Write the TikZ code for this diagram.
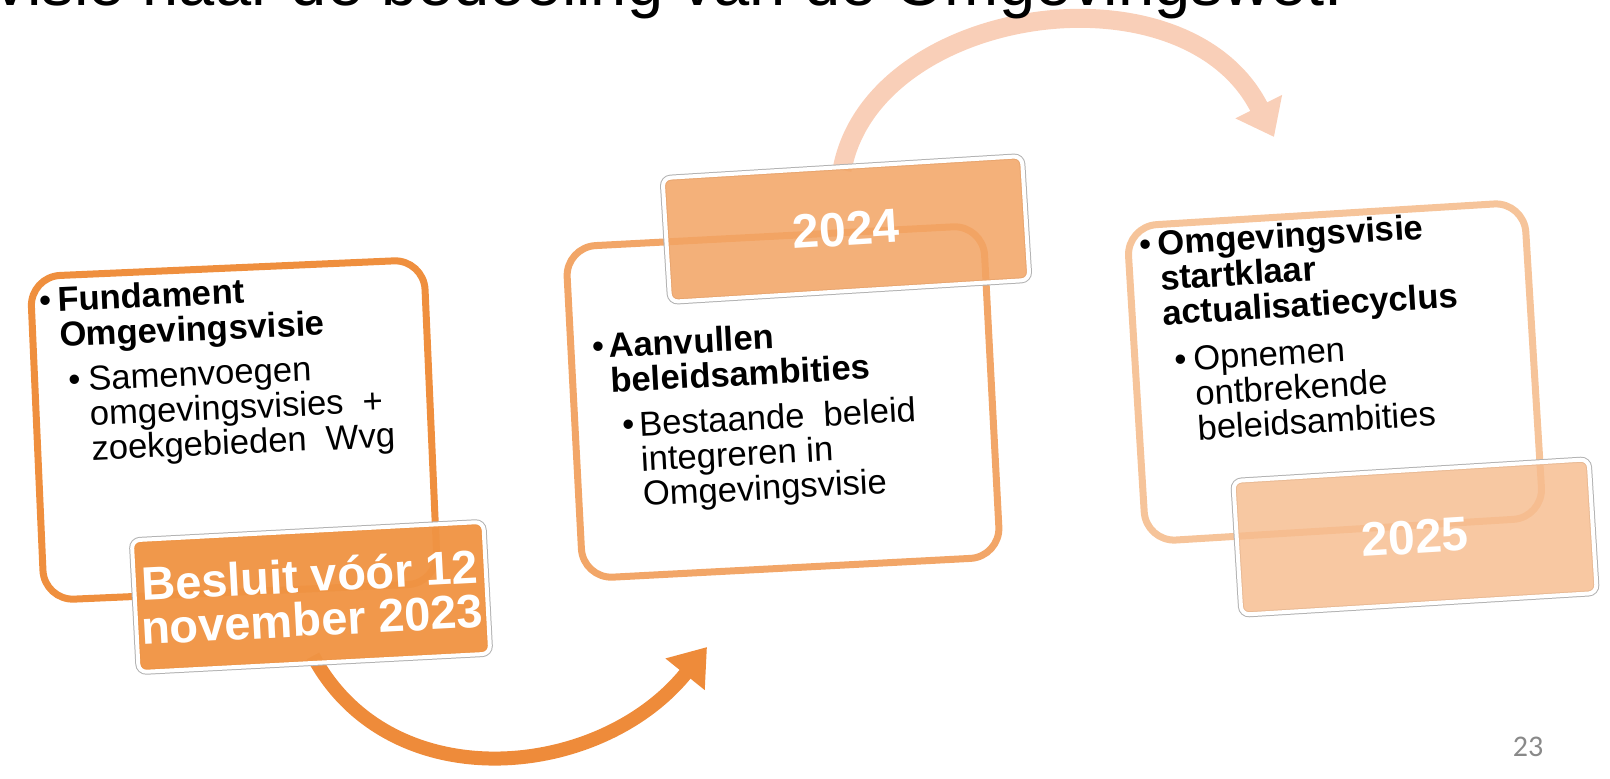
\documentclass[tikz,border=0pt]{standalone}
\usepackage{fontspec}
\setmainfont{Liberation Sans}
\newfontfamily\pagenofont{Carlito}
\usetikzlibrary{arrows.meta}
\definecolor{orA}{RGB}{239,143,62}
\definecolor{orArrow}{RGB}{238,139,58}
\definecolor{labA}{RGB}{240,148,68}
\definecolor{orB}{RGB}{242,166,104}
\definecolor{labB}{RGB}{242,164,100}
\definecolor{orC}{RGB}{246,196,154}
\definecolor{labC}{RGB}{246,188,142}
\definecolor{peach}{RGB}{249,207,184}
\definecolor{pgnum}{RGB}{137,137,137}
\begin{document}
\begin{tikzpicture}[x=0.5pt,y=-0.5pt,
  card/.style={draw=#1, line width=3.5pt, fill=white, rounded corners=15pt, inner sep=0pt},
  tag/.style={fill=#1, draw=white, line width=2pt, rounded corners=4pt,
    preaction={draw=black!30, line width=3pt},
    text=white, text opacity=1, inner sep=0pt, align=center,
    font=\bfseries\fontsize{23.5pt}{22pt}\selectfont},
  txt/.style={anchor=north west, inner sep=0pt, align=left, font=\fontsize{17.3pt}{17.5pt}\selectfont}]
\useasboundingbox (0,0) rectangle (1610,779);
\clip (0,0) rectangle (1610,779);

% arrows
\coordinate (a1s) at (313,656);
\coordinate (a1e) at (707,647);
\draw[orArrow, line width=7pt, -{Triangle[length=17.5pt,width=24pt]}] (a1s) .. controls (390,800) and (600,780) .. (a1e);
\coordinate (a2s) at (842,170);
\coordinate (a2e) at (1274,137);
\draw[peach, line width=9.5pt, -{Triangle[length=17pt,width=25pt]}] (a2s) .. controls (872,5) and (1185,-40) .. (a2e);

% title (clipped at the top and left)
\node[anchor=base east, inner sep=0pt, font=\fontsize{32.5pt}{32.5pt}\selectfont] (title) at (1343,6) {svisie naar de bedoeling van de Omgevingswet.};

% box 1
\node[card=orA, rotate=2.5, minimum width=197pt, minimum height=162pt] (b1) at (234,430) {};
\node[tag=labA, fill opacity=0.96, rotate=3, minimum width=176pt, minimum height=66pt] (l1) at (311,597) {Besluit vóór 12\\november 2023};
\node[txt, rotate=2.5] (t1) at (38,287) {%
\makebox[9.5pt][l]{•}\textbf{Fundament}\\
\hspace*{9.5pt}\textbf{Omgevingsvisie}\\[5pt]
\hspace*{13pt}\makebox[10pt][l]{•}Samenvoegen\\
\hspace*{23pt}omgevingsvisies\ \ +\\
\hspace*{23pt}zoekgebieden\ \ Wvg};

% box 2
\node[card=orB, rotate=3, minimum width=209pt, minimum height=166pt] (b2) at (783,402) {};
\node[tag=labB, fill opacity=0.86, rotate=3.5, minimum width=180pt, minimum height=62pt, font=\bfseries\fontsize{24pt}{24pt}\selectfont] (l2) at (846,229) {2024};
\node[txt, rotate=3] (t2) at (591,333) {%
\makebox[8.5pt][l]{•}\textbf{Aanvullen}\\
\hspace*{8.5pt}\textbf{beleidsambities}\\[5pt]
\hspace*{13pt}\makebox[8.5pt][l]{•}Bestaande\ \ beleid\\
\hspace*{21.5pt}integreren in\\
\hspace*{21.5pt}Omgevingsvisie};

% box 3
\node[card=orC, rotate=3.5, minimum width=199pt, minimum height=158pt] (b3) at (1335,372) {};
\node[tag=labC, fill opacity=0.82, rotate=3.5, minimum width=178pt, minimum height=67pt, font=\bfseries\fontsize{24pt}{24pt}\selectfont] (l3) at (1415,537) {2025};
\node[txt, rotate=3.5] (t3) at (1138,231) {%
\makebox[9.5pt][l]{•}\textbf{Omgevingsvisie}\\
\hspace*{9.5pt}\textbf{startklaar}\\
\hspace*{9.5pt}\textbf{actualisatiecyclus}\\[6pt]
\hspace*{14pt}\makebox[9.5pt][l]{•}Opnemen\\
\hspace*{23.5pt}ontbrekende\\
\hspace*{23.5pt}beleidsambities};

% page number
\node[inner sep=0pt, text=pgnum, font=\pagenofont\fontsize{15pt}{15pt}\selectfont] (pg) at (1528,747) {23};
\end{tikzpicture}
\end{document}
